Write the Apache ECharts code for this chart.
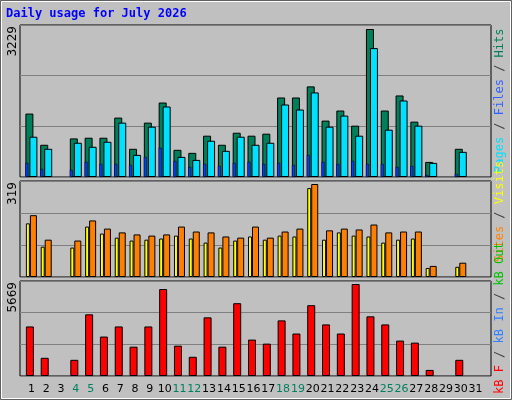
<!DOCTYPE html>
<html><head><meta charset="utf-8">
<script src="https://cdn.jsdelivr.net/npm/echarts@6/dist/echarts.min.js"></script>
<style>html,body{margin:0;padding:0;background:#c0c0c0}#c{width:512px;height:400px}</style>
</head><body><div id="c"></div>
<script>
const days = ['1','2','3','4','5','6','7','8','9','10','11','12','13','14','15','16','17','18','19','20','21','22','23','24','25','26','27','28','29','30','31'];
const weekend = ['4','5','11','12','18','19','25','26'];
const hits  = [1384,703,0,842,857,857,1296,615,1186,1625,593,527,901,703,966,901,945,1735,1735,1977,1230,1450,1120,3229,1450,1779,1208,329,0,615,0];
const files = [879,615,0,747,659,769,1186,483,1098,1538,439,373,791,571,879,703,747,1582,1472,1845,1098,1340,901,2812,1032,1669,1120,308,0,549,0];
const pages = [308,176,0,154,330,286,286,264,439,637,351,220,286,242,308,330,286,308,264,483,330,286,351,286,286,220,242,44,0,66,0];
const visits = [184,104,0,101,173,149,135,125,128,132,142,132,118,101,125,139,128,142,139,305,128,153,142,139,118,128,132,31,0,35,0];
const sites  = [212,128,0,125,194,166,153,146,142,146,173,156,153,139,135,173,135,156,166,319,160,166,163,180,153,156,156,38,0,49,0];
const kbytes = [3053,1121,0,997,3801,2430,3053,1807,3053,5358,1869,1184,3614,1807,4486,2243,1994,3427,2617,4362,3178,2617,5669,3676,3178,2181,2056,374,0,997,0];
const maxLabels = ['3229','319','5669'];

const z = v => v === 0 ? null : v;
const panels = [{top:25,h:152,bt:29,bh:148,max:3229},{top:181,h:96,bt:184,bh:93,max:319},{top:281,h:95,bt:284,bh:92,max:5669}];
const grid=[], xAxis=[], yAxis=[], series=[];
panels.forEach((p,i)=>{
  grid.push({left:20,width:471,top:p.top,height:p.h,show:true,backgroundColor:'#c0c0c0',borderColor:'#000',borderWidth:1});
  xAxis.push({gridIndex:2*i,type:'value',show:false,min:0,max:1});
  yAxis.push({gridIndex:2*i,type:'value',min:0,max:3,interval:1,axisLabel:{show:false},axisLine:{show:false},axisTick:{show:false},splitLine:{lineStyle:{color:'#808080',width:1}}});
  grid.push({left:24,width:459,top:p.bt,height:p.bh});
  yAxis.push({gridIndex:2*i+1,type:'value',min:0,max:p.max,show:false,splitLine:{show:false}});
});
const bx = (gi, showLabels) => ({gridIndex:gi,type:'category',data:days,axisLine:{show:false},axisTick:{show:false},
  axisLabel:{show:showLabels,interval:0,hideOverlap:false,margin:8,fontFamily:'DejaVu Sans',fontSize:11,color:(v)=>weekend.includes(v)?'#008060':'#000'}});
xAxis.push(bx(1,false));
xAxis.push(bx(1,false));
xAxis.push(bx(3,false));
xAxis.push(bx(5,true));
const st = c => ({color:c,borderColor:'#000',borderWidth:1});
series.push({type:'bar',name:'Hits',xAxisIndex:3,yAxisIndex:1,data:hits.map(z),barWidth:8,barGap:'-50%',itemStyle:st('#00805a'),z:2});
series.push({type:'bar',name:'Files',xAxisIndex:3,yAxisIndex:1,data:files.map(z),barWidth:8,itemStyle:st('#00e0ff'),z:3});
series.push({type:'bar',name:'Pages',xAxisIndex:4,yAxisIndex:1,data:pages.map(z),barWidth:3,barGap:'0%',itemStyle:{color:'#0040ff',borderColor:'#000',borderWidth:0.5},z:4});
series.push({type:'bar',name:'dummy1',xAxisIndex:4,yAxisIndex:1,data:days.map(()=>null),barWidth:9,z:1});
series.push({type:'bar',name:'Visits',xAxisIndex:5,yAxisIndex:3,data:visits.map(z),barWidth:4,barGap:'0%',itemStyle:st('#ffff00')});
series.push({type:'bar',name:'Sites',xAxisIndex:5,yAxisIndex:3,data:sites.map(z),barWidth:7,itemStyle:st('#ff8000')});
series.push({type:'bar',name:'KBytes',xAxisIndex:6,yAxisIndex:5,data:kbytes.map(z),barWidth:8,barGap:'0%',itemStyle:st('#ff0000')});
series.push({type:'bar',name:'dummy2',xAxisIndex:6,yAxisIndex:5,data:days.map(()=>null),barWidth:3});

const mono = 'DejaVu Sans Mono';
const graphic = [
  {type:'rect',shape:{x:0.5,y:0.5,width:511,height:399},style:{fill:null,stroke:'#606060',lineWidth:1},silent:true},
  {type:'rect',shape:{x:1.5,y:1.5,width:509,height:397},style:{fill:null,stroke:'#fff',lineWidth:1},silent:true},
  {type:'text',left:6,top:8,style:{text:'Daily usage for July 2026',fill:'#0000ff',font:'bold 12px '+mono}},
];
panels.forEach((p,i)=>{
  graphic.push({type:'text',x:7,y:p.top+1,rotation:Math.PI/2,style:{text:maxLabels[i],fill:'#000',font:'12px DejaVu Sans',textAlign:'right',textVerticalAlign:'top'}});
});
const rl = (y, parts) => ({type:'text',x:494,y:y,rotation:Math.PI/2,style:{text:parts.map((p,k)=>'{s'+k+'|'+p[0]+'}').join(''),
  rich:Object.fromEntries(parts.map((p,k)=>['s'+k,{fill:p[1],font:'12px '+mono}])),textAlign:'left',textVerticalAlign:'top'}});
graphic.push(rl(173,[['Pages','#00e0ff'],[' / ','#404040'],['Files','#3060ff'],[' / ','#404040'],['Hits','#00805a']]));
graphic.push(rl(262,[['Sites','#ff8000'],[' / ','#404040'],['Visits','#ffff00']]));
graphic.push(rl(394,[['kB F','#ff0000'],[' / ','#404040'],['kB In','#3080ff'],[' / ','#404040'],['kB Out','#00c000']]));

const chart = echarts.init(document.getElementById('c'));
chart.setOption({animation:false,backgroundColor:'#c0c0c0',grid,xAxis,yAxis,series,graphic});
</script></body></html>
